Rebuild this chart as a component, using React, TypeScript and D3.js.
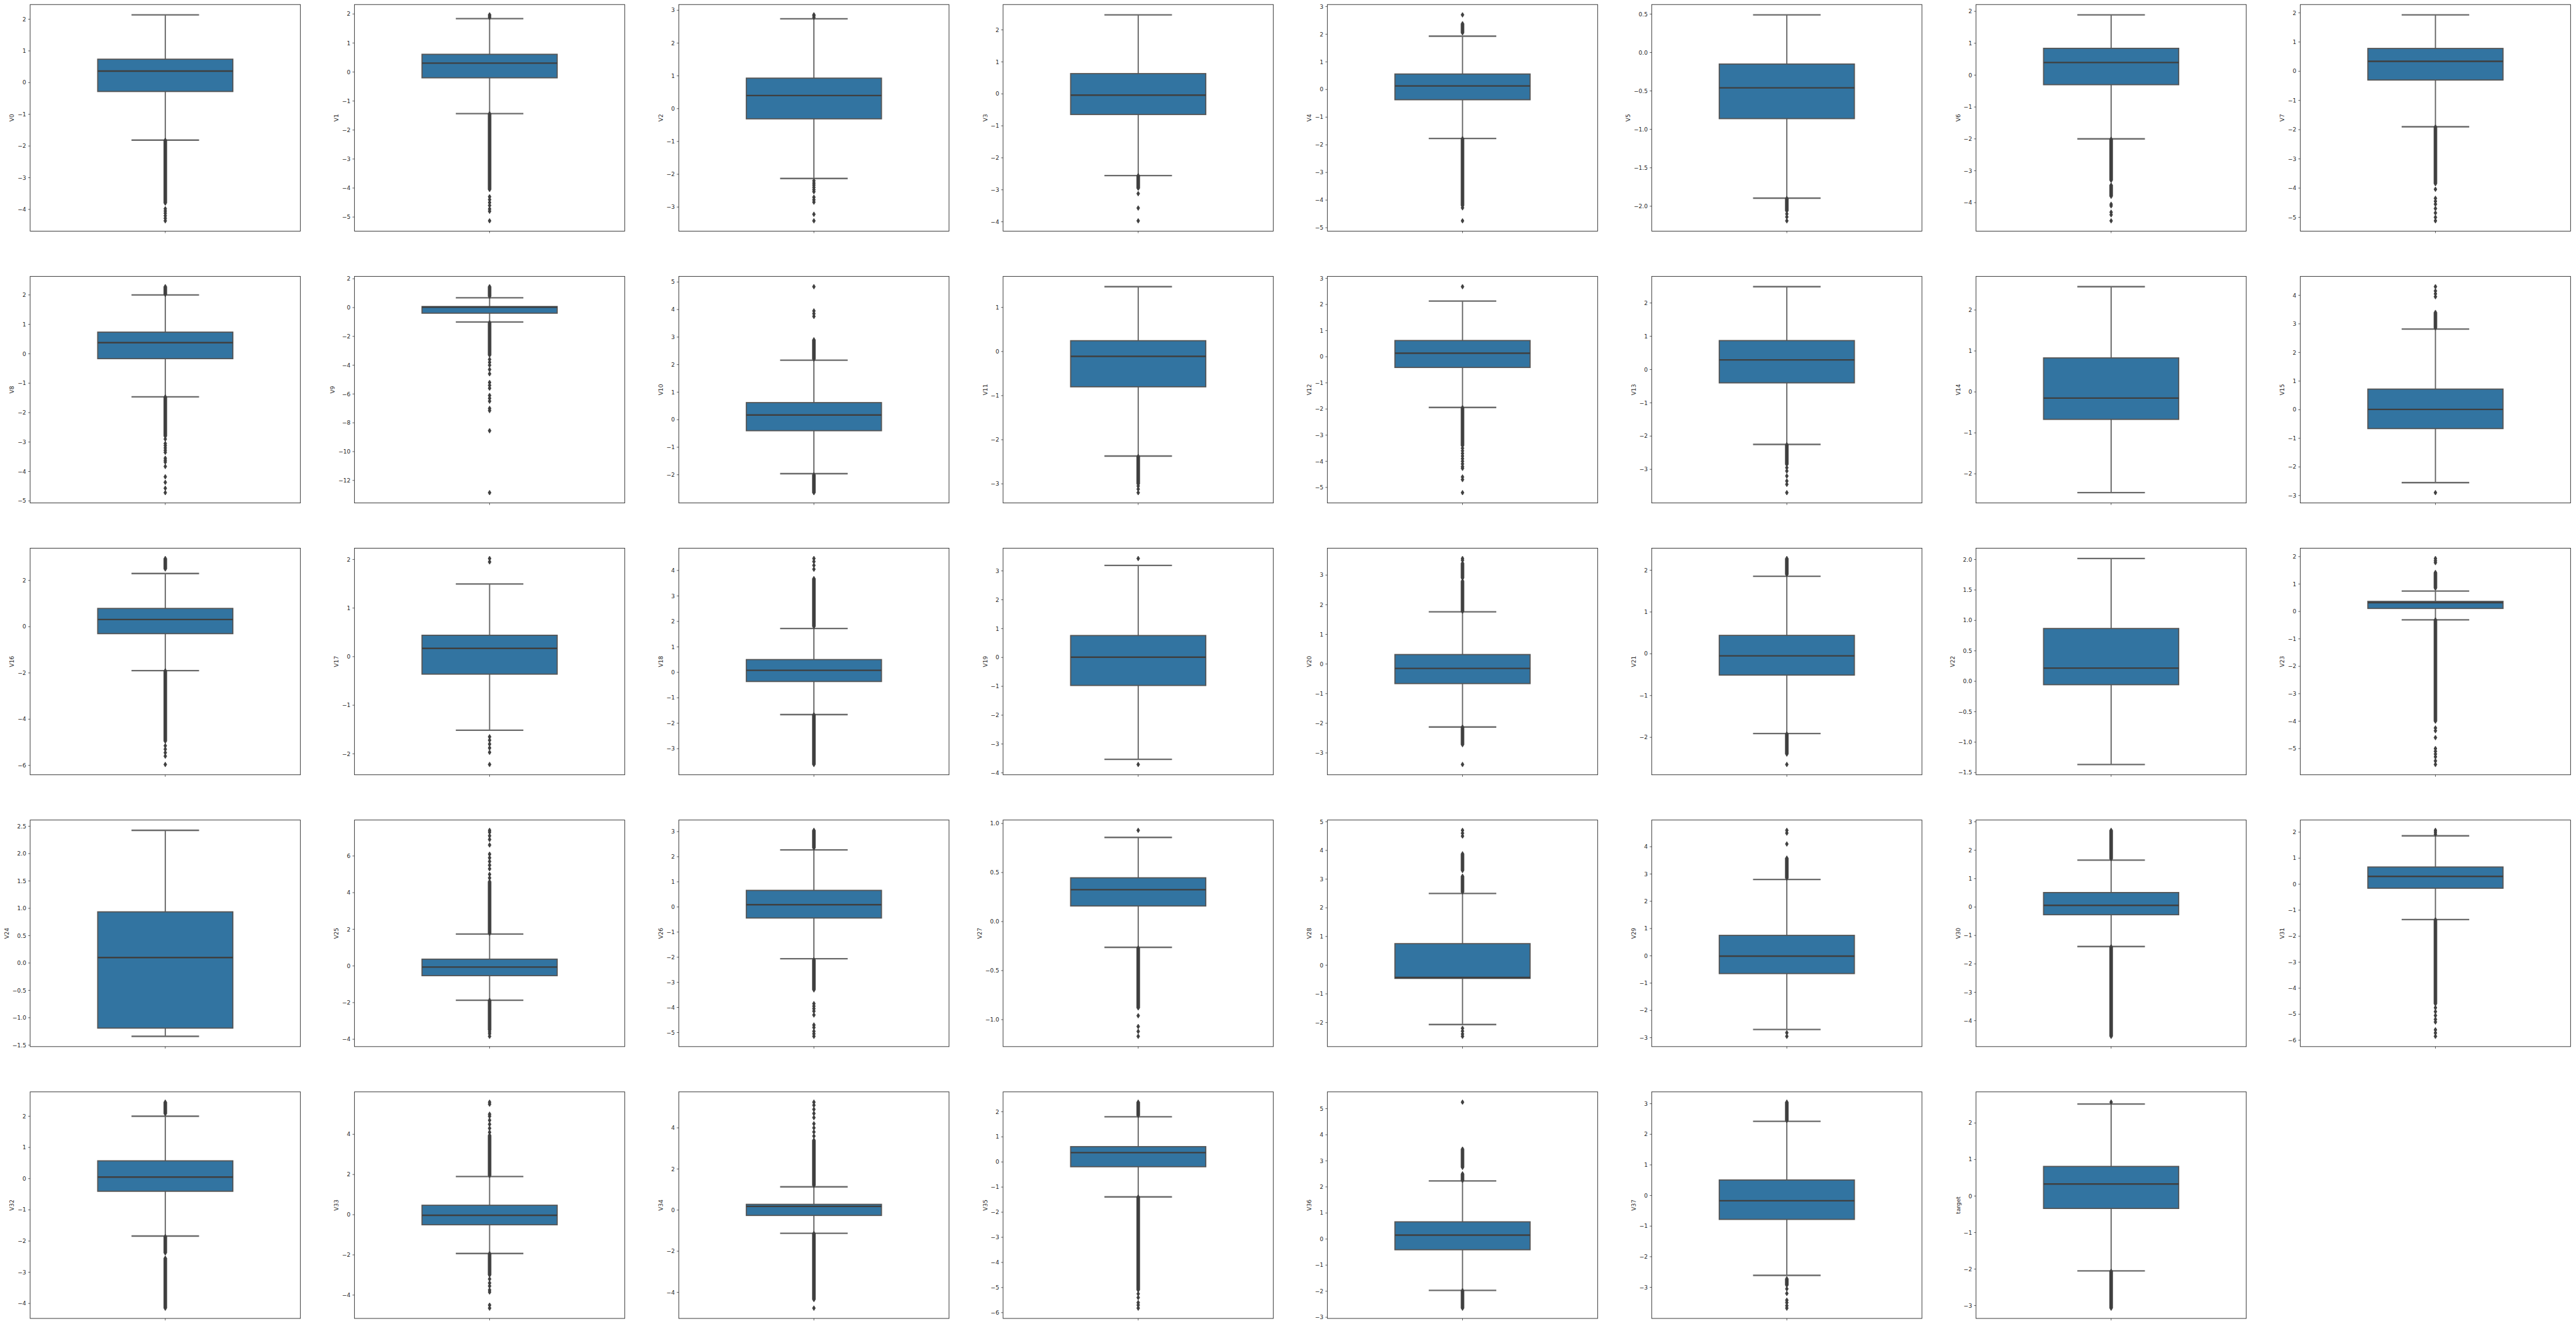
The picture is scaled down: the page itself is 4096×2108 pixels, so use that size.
import React from 'react';
import * as d3 from 'd3';

// one box per column of the data frame, 8 per row
const NAMES = [
  'V0', 'V1', 'V2', 'V3', 'V4', 'V5', 'V6', 'V7',
  'V8', 'V9', 'V10', 'V11', 'V12', 'V13', 'V14', 'V15',
  'V16', 'V17', 'V18', 'V19', 'V20', 'V21', 'V22', 'V23',
  'V24', 'V25', 'V26', 'V27', 'V28', 'V29', 'V30', 'V31',
  'V32', 'V33', 'V34', 'V35', 'V36', 'V37', 'target',
];

const WHISKER_LO = [
  -1.815, -1.435, -2.13, -2.556, -1.77, -1.895, -2.0, -1.9,
  -1.465, -1.0, -1.96, -2.37, -1.94, -2.25, -2.46, -2.55,
  -1.9, -1.515, -1.66, -3.53, -2.125, -1.91, -1.367, -0.306,
  -1.34, -1.87, -2.06, -0.263, -2.07, -2.7, -1.39, -1.36,
  -1.84, -1.93, -1.13, -1.39, -1.97, -2.61, -2.05,
];
const Q1 = [
  -0.28, -0.2, -0.31, -0.645, -0.37, -0.86, -0.3, -0.3,
  -0.166, -0.39, -0.4, -0.8, -0.41, -0.4, -0.67, -0.66,
  -0.3, -0.36, -0.36, -0.97, -0.66, -0.51, -0.056, 0.11,
  -1.19, -0.53, -0.44, 0.159, -0.46, -0.65, -0.27, -0.155,
  -0.405, -0.5, -0.26, -0.19, -0.41, -0.78, -0.34,
];
const MEDIAN = [
  0.363, 0.305, 0.4, -0.04, 0.13, -0.46, 0.395, 0.34,
  0.377, 0.03, 0.17, -0.11, 0.135, 0.29, -0.15, 0.01,
  0.31, 0.17, 0.08, 0.01, -0.15, -0.05, 0.217, 0.32,
  0.1, -0.06, 0.09, 0.325, -0.43, -0.01, 0.06, 0.3,
  0.05, -0.03, 0.18, 0.37, 0.15, -0.17, 0.33,
];
const Q3 = [
  0.738, 0.61, 0.93, 0.633, 0.56, -0.15, 0.84, 0.78,
  0.735, 0.07, 0.62, 0.245, 0.62, 0.87, 0.83, 0.72,
  0.79, 0.44, 0.5, 0.76, 0.32, 0.44, 0.867, 0.367,
  0.935, 0.37, 0.66, 0.446, 0.75, 0.75, 0.51, 0.66,
  0.57, 0.47, 0.28, 0.61, 0.66, 0.507, 0.81,
];
const WHISKER_HI = [
  2.137, 1.84, 2.74, 2.47, 1.93, 0.49, 1.89, 1.93,
  2.0, 0.68, 2.16, 1.47, 2.13, 2.49, 2.57, 2.82,
  2.3, 1.495, 1.72, 3.19, 1.76, 1.855, 2.017, 0.745,
  2.425, 1.74, 2.27, 0.858, 2.5, 2.8, 1.65, 1.86,
  2.0, 1.9, 1.13, 1.8, 2.23, 2.425, 2.52,
];

// single outliers
const FLIERS = [
  [-3.98, -4.05, -4.12, -4.2, -4.28, -4.36],
  [1.88, 1.93, 1.97, -4.3, -4.4, -4.5, -4.6, -4.72, -4.8, -5.13],
  [2.78, 2.83, 2.86, -2.2, -2.27, -2.33, -2.4, -2.47, -2.53, -2.7, -2.78, -2.85, -3.22, -3.42],
  [-3.12, -3.57, -3.97],
  [2.7, -4.28, -4.75],
  [-2.1, -2.14, -2.19],
  [-4.05, -4.1, -4.3, -4.38, -4.57],
  [-4.04, -4.35, -4.45, -4.55, -4.7, -4.85, -5.0, -5.12],
  [-2.9, -3.05, -3.12, -3.2, -3.28, -3.35, -3.55, -3.62, -3.68, -3.83, -4.18, -4.37, -4.57, -4.72],
  [-3.6, -3.8, -4.0, -4.3, -4.6, -5.2, -5.4, -5.6, -6.1, -6.3, -6.5, -7.0, -7.15, -8.55, -12.85],
  [3.75, 3.85, 3.95, 4.83],
  [-3.05, -3.12, -3.2],
  [2.68, -3.5, -3.6, -3.7, -3.8, -3.9, -4.0, -4.1, -4.2, -4.27, -4.6, -4.7, -5.2],
  [-2.95, -3.05, -3.2, -3.35, -3.45, -3.7],
  [],
  [3.95, 4.05, 4.15, 4.3, -2.9],
  [-5.15, -5.3, -5.45, -5.6, -5.96],
  [1.95, 2.02, -1.65, -1.72, -1.8, -1.88, -1.97, -2.22],
  [4.05, 4.2, 4.35, 4.47],
  [3.43, -3.71],
  [3.5, 3.56, -3.39],
  [-2.65],
  [],
  [1.78, 1.85, 1.93, -4.25, -4.35, -4.6, -5.0, -5.1, -5.2, -5.3, -5.45, -5.58],
  [],
  [4.8, 5.0, 5.3, 5.5, 5.7, 5.9, 6.1, 6.6, 6.9, 7.1, 7.3, 7.4, -3.6, -3.7, -3.84],
  [-3.85, -3.95, -4.05, -4.15, -4.3, -4.7, -4.8, -4.95, -5.05, -5.15],
  [0.93, -0.96, -1.07, -1.12, -1.17],
  [4.5, 4.6, 4.7, -2.2, -2.3, -2.4, -2.48],
  [4.1, 4.5, 4.6, -2.82, -2.95],
  [],
  [1.92, 2.0, 2.07, -4.75, -4.9, -5.05, -5.2, -5.3, -5.6, -5.72, -5.85],
  [],
  [4.1, 4.3, 4.5, 4.7, 4.9, 5.0, 5.5, 5.6, -3.2, -3.4, -3.55, -3.75, -3.85, -4.5, -4.65],
  [3.6, 3.8, 4.0, 4.2, 4.5, 4.7, 4.9, 5.1, 5.25, -4.77],
  [-5.25, -5.4, -5.6, -5.7, -5.82],
  [5.25],
  [-3.05, -3.2, -3.42, -3.5, -3.6, -3.68],
  [2.57],
];

// stretches where the outlier diamonds overlap into a solid bar [low, high]
const FLIER_RUNS = [
  [[-3.8, -1.82]],
  [[-4.05, -1.44]],
  [],
  [[-2.95, -2.56]],
  [[2.05, 2.38], [-4.2, -1.78]],
  [[-2.06, -1.9]],
  [[-3.3, -2.01], [-3.8, -3.45]],
  [[-3.85, -1.91]],
  [[2.02, 2.28], [-2.8, -1.47]],
  [[0.78, 1.45], [-3.3, -1.05]],
  [[2.2, 2.9], [-2.65, -2.0]],
  [[-3.0, -2.38]],
  [[-3.4, -1.95]],
  [[-2.85, -2.26]],
  [],
  [[2.86, 3.4]],
  [[2.5, 2.95], [-4.95, -1.91]],
  [],
  [[1.8, 3.68], [-3.62, -1.67]],
  [],
  [[1.78, 2.8], [2.9, 3.4], [-2.72, -2.13]],
  [[1.9, 2.28], [-2.4, -1.92]],
  [],
  [[0.85, 1.42], [-4.0, -0.31]],
  [],
  [[1.78, 4.6], [-3.5, -1.88]],
  [[2.35, 3.05], [-3.3, -2.1]],
  [[-0.88, -0.27]],
  [[2.55, 3.1], [3.3, 3.88]],
  [[2.85, 3.58]],
  [[1.7, 2.7], [-4.55, -1.4]],
  [[-4.6, -1.37]],
  [[2.08, 2.45], [-2.38, -1.86], [-4.15, -2.55]],
  [[1.95, 3.95], [-3.0, -1.94]],
  [[1.2, 3.4], [-4.35, -1.14]],
  [[1.85, 2.38], [-5.1, -1.4]],
  [[2.25, 2.5], [2.75, 3.45], [-2.65, -1.98]],
  [[2.45, 3.05], [-2.93, -2.72]],
  [[-3.07, -2.06]],
];

const Y_TICKS = [
  [-4, -3, -2, -1, 0, 1, 2],
  [-5, -4, -3, -2, -1, 0, 1, 2],
  [-3, -2, -1, 0, 1, 2, 3],
  [-4, -3, -2, -1, 0, 1, 2],
  [-5, -4, -3, -2, -1, 0, 1, 2, 3],
  [-2, -1.5, -1, -0.5, 0, 0.5],
  [-4, -3, -2, -1, 0, 1, 2],
  [-5, -4, -3, -2, -1, 0, 1, 2],
  [-5, -4, -3, -2, -1, 0, 1, 2],
  [-12, -10, -8, -6, -4, -2, 0, 2],
  [-2, -1, 0, 1, 2, 3, 4, 5],
  [-3, -2, -1, 0, 1],
  [-5, -4, -3, -2, -1, 0, 1, 2, 3],
  [-3, -2, -1, 0, 1, 2],
  [-2, -1, 0, 1, 2],
  [-3, -2, -1, 0, 1, 2, 3, 4],
  [-6, -4, -2, 0, 2],
  [-2, -1, 0, 1, 2],
  [-3, -2, -1, 0, 1, 2, 3, 4],
  [-4, -3, -2, -1, 0, 1, 2, 3],
  [-3, -2, -1, 0, 1, 2, 3],
  [-2, -1, 0, 1, 2],
  [-1.5, -1, -0.5, 0, 0.5, 1, 1.5, 2],
  [-5, -4, -3, -2, -1, 0, 1, 2],
  [-1.5, -1, -0.5, 0, 0.5, 1, 1.5, 2, 2.5],
  [-4, -2, 0, 2, 4, 6],
  [-5, -4, -3, -2, -1, 0, 1, 2, 3],
  [-1, -0.5, 0, 0.5, 1],
  [-2, -1, 0, 1, 2, 3, 4, 5],
  [-3, -2, -1, 0, 1, 2, 3, 4],
  [-4, -3, -2, -1, 0, 1, 2, 3],
  [-6, -5, -4, -3, -2, -1, 0, 1, 2],
  [-4, -3, -2, -1, 0, 1, 2],
  [-4, -2, 0, 2, 4],
  [-4, -2, 0, 2, 4],
  [-6, -5, -4, -3, -2, -1, 0, 1, 2],
  [-3, -2, -1, 0, 1, 2, 3, 4, 5],
  [-3, -2, -1, 0, 1, 2, 3],
  [-3, -2, -1, 0, 1, 2],
];

// layout in reference pixels, everything is scaled down at the end
const SCALE = 0.905;
const AX_LEFT = 53;
const AX_TOP = 8;
const AX_W = 474.8;
const AX_H = 398;
const COL_STEP = 569.8;
const ROW_STEP = 477.5;
const N_COLS = 8;

const BOX_FILL = '#3274a1';
const LINE_GRAY = '#3f3f3f';
const INK = '#262626';
const FONT = '"DejaVu Sans", Verdana, sans-serif';

// rough DejaVu Sans advance widths at 10px
const textWidth = (s: string) => {
  let w = 0;
  for (const ch of s) w += ch === '\u2212' ? 8.38 : ch === '.' ? 3.18 : 6.36;
  return w;
};

const BoxPanel = ({ i }: { i: number }) => {
  const col = i % N_COLS;
  const row = Math.floor(i / N_COLS);
  const left = AX_LEFT + col * COL_STEP;
  const top = AX_TOP + row * ROW_STEP;

  const values = [WHISKER_LO[i], WHISKER_HI[i], ...FLIERS[i], ...FLIER_RUNS[i].flat()];
  const [mn, mx] = d3.extent(values) as [number, number];
  const pad = (mx - mn) * 0.05;
  const y = d3.scaleLinear().domain([mn - pad, mx + pad]).range([AX_H, 0]);
  const x = d3.scaleLinear().domain([-0.5, 0.5]).range([0, AX_W]);

  const ticks = Y_TICKS[i].filter(t => t >= mn - pad - 1e-9 && t <= mx + pad + 1e-9);
  const decimals = Y_TICKS[i].some(t => !Number.isInteger(t));
  const fmt = d3.format(decimals ? '.1f' : 'd');
  const labels = ticks.map(t => fmt(t));
  const maxW = d3.max(labels, l => textWidth(l)) || 0;
  const ylabelX = -3.5 - 3.5 - maxW - 4 - 2.4;

  const cx = x(0);
  const bx0 = x(-0.25), bx1 = x(0.25);
  const cx0 = x(-0.125), cx1 = x(0.125);

  const diamond = 'M0,-4.2L2.6,0L0,4.2L-2.6,0Z';

  return (
    <g transform={`translate(${left},${top})`}>
      {/* whiskers */}
      <line x1={cx} x2={cx} y1={y(Q3[i])} y2={y(WHISKER_HI[i])} stroke="#5e5e5e" strokeWidth={2} />
      <line x1={cx} x2={cx} y1={y(Q1[i])} y2={y(WHISKER_LO[i])} stroke="#5e5e5e" strokeWidth={2} />
      {/* box */}
      <rect
        x={bx0}
        y={y(Q3[i])}
        width={bx1 - bx0}
        height={y(Q1[i]) - y(Q3[i])}
        fill={BOX_FILL}
        stroke="#555"
        strokeWidth={2}
      />
      <line x1={bx0} x2={bx1} y1={y(MEDIAN[i])} y2={y(MEDIAN[i])} stroke={LINE_GRAY} strokeWidth={2.6} />
      {/* caps */}
      <line x1={cx0} x2={cx1} y1={y(WHISKER_HI[i])} y2={y(WHISKER_HI[i])} stroke="#6a6a6a" strokeWidth={2.6} />
      <line x1={cx0} x2={cx1} y1={y(WHISKER_LO[i])} y2={y(WHISKER_LO[i])} stroke="#6a6a6a" strokeWidth={2.6} />
      {/* outliers */}
      {FLIER_RUNS[i].map(([lo, hi], k) => {
        const yt = y(hi), yb = y(lo);
        return (
          <path
            key={`r${k}`}
            d={`M${cx},${yt - 4.2}L${cx + 2.6},${yt}L${cx + 2.6},${yb}L${cx},${yb + 4.2}L${cx - 2.6},${yb}L${cx - 2.6},${yt}Z`}
            fill={LINE_GRAY}
            stroke={LINE_GRAY}
            strokeWidth={1}
          />
        );
      })}
      {FLIERS[i].map((v, k) => (
        <path
          key={`p${k}`}
          d={diamond}
          transform={`translate(${cx},${y(v)})`}
          fill={LINE_GRAY}
          stroke={LINE_GRAY}
          strokeWidth={1}
        />
      ))}
      {/* frame */}
      <rect x={0} y={0} width={AX_W} height={AX_H} fill="none" stroke={INK} strokeWidth={1} />
      {/* y axis */}
      {ticks.map((t, k) => (
        <g key={`t${k}`} transform={`translate(0,${y(t)})`}>
          <line x1={-3.5} x2={0} stroke={INK} strokeWidth={0.8} />
          <text x={-7} dy="0.35em" textAnchor="end" fontSize={10} fill={INK} fontFamily={FONT}>
            {labels[k]}
          </text>
        </g>
      ))}
      {/* x tick without label */}
      <line x1={cx} x2={cx} y1={AX_H} y2={AX_H + 3.5} stroke={INK} strokeWidth={0.8} />
      <text
        transform={`translate(${ylabelX},${AX_H / 2}) rotate(-90)`}
        textAnchor="middle"
        fontSize={10}
        fill={INK}
        fontFamily={FONT}
      >
        {NAMES[i]}
      </text>
    </g>
  );
};

export default function App() {
  return (
    <div style={{ position: 'absolute', left: 0, top: 0 }}>
      <svg width={4096} height={2108} style={{ display: 'block', background: '#fff' }}>
        <g transform={`scale(${SCALE})`}>
          {NAMES.map((_, i) => (
            <BoxPanel key={NAMES[i]} i={i} />
          ))}
        </g>
      </svg>
    </div>
  );
}
